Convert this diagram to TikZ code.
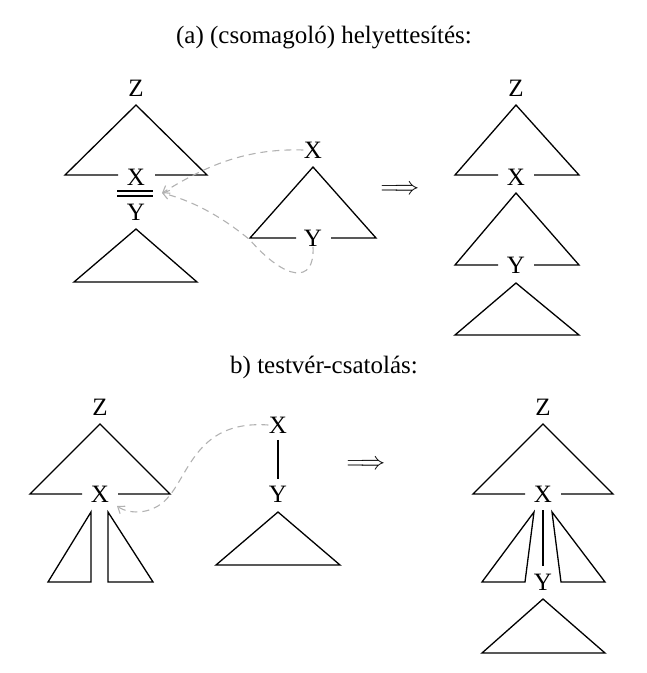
\documentclass[tikz,border=0pt]{standalone}
\usepackage{fontspec}
\setmainfont{Liberation Serif}
\usetikzlibrary{arrows.meta}
\begin{document}
\begin{tikzpicture}[x=1pt,y=-1pt,line width=1.3pt,
  lbl/.style={font=\fontsize{25}{28}\selectfont,inner sep=0pt},
  dsh/.style={draw=gray!60,dashed,line width=1.1pt,dash pattern=on 7pt off 5pt,-{Straight Barb[length=6pt,width=9pt]}}]
\useasboundingbox (0,0) rectangle (647,673);
\node[lbl] (ta) at (324,38) {(a) (csomagoló) helyettesítés:};
% left a
\node[lbl] (z1) at (136,88) {Z};
\node[lbl] (x1) at (136,177) {X};
\draw (118,175) -- (65,175) -- (136,105) -- (207,175) -- (155,175);
\draw (117,191) -- (153,191) (117,196) -- (153,196);
\coordinate (dl) at (162,193);
\node[lbl] (y1) at (136,212) {Y};
\draw (74,282) -- (136,229) -- (197,282) -- cycle;
% middle a
\node[lbl] (x2) at (313,150) {X};
\node[lbl] (y2) at (313,238) {Y};
\draw (296,238) -- (250,238) -- (313,167) -- (376,238) -- (331,238);
\draw[dsh] (x2.west) .. controls (240,148) and (200,170) .. (dl);
\draw[dsh] (y2.south) .. controls (315,285) and (285,280) .. (250,240) .. controls (220,215) and (190,200) .. (dl);
\node[lbl] (ar1) at (400,190) {$\Longrightarrow$};
% right a
\node[lbl] (z3) at (516,88) {Z};
\node[lbl] (x3) at (516,177) {X};
\draw (498,175) -- (455,175) -- (516,105) -- (579,175) -- (534,175);
\node[lbl] (y3) at (516,265) {Y};
\draw (498,265) -- (455,265) -- (516,193) -- (579,265) -- (534,265);
\draw (455,335) -- (516,283) -- (579,335) -- cycle;
% b
\node[lbl] (tb) at (324,367) {b) testvér-csatolás:};
\node[lbl] (z4) at (100,407) {Z};
\node[lbl] (x4) at (100,494) {X};
\draw (82,494) -- (30,494) -- (100,424) -- (170,494) -- (118,494);
\draw (91,512) -- (91,582) -- (48,582) -- cycle;
\draw (108,512) -- (108,582) -- (153,582) -- cycle;
\node[lbl] (x5) at (278,425) {X};
\node[lbl] (y5) at (278,494) {Y};
\draw (x5.south) ++(0,6) coordinate (a5) (y5.north) ++(0,-6) coordinate (b5);
\draw (a5) -- (b5);
\draw (216,565) -- (278,512) -- (340,565) -- cycle;
\coordinate (dl2) at (117,506);
\draw[dsh] (x5.west) .. controls (200,420) and (190,470) .. (170,495) .. controls (155,515) and (130,515) .. (dl2);
\node[lbl] (ar2) at (366,465) {$\Longrightarrow$};
\node[lbl] (z6) at (543,407) {Z};
\node[lbl] (x6) at (543,494) {X};
\draw (525,494) -- (473,494) -- (543,424) -- (613,494) -- (561,494);
\node[lbl] (y6) at (543,582) {Y};
\draw (543,510) -- (543,566);
\draw (534,512) -- (525,582) -- (482,582) -- cycle;
\draw (552,512) -- (561,582) -- (605,582) -- cycle;
\draw (482,653) -- (543,599) -- (605,653) -- cycle;
\end{tikzpicture}
\end{document}
